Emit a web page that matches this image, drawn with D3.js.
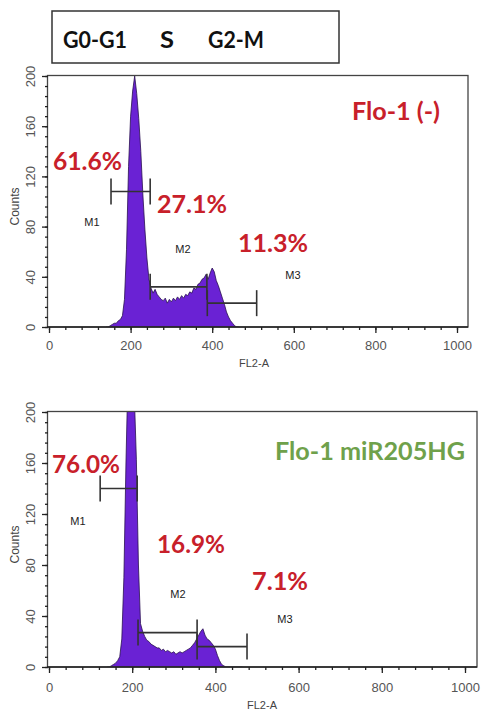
<!DOCTYPE html>
<html><head><meta charset="utf-8">
<script src="https://cdn.jsdelivr.net/npm/d3@7"></script>
<style>body{margin:0;background:#fff}svg{display:block}</style>
</head><body>
<script>
// ---- data ----
const phases = ["G0-G1", "S", "G2-M"];
const fl2a = [140,145,150,155,160,165,170,175,180,185,190,195,200,205,210,215,220,225,230,235,240,245,250,255,260,265,270,275,280,285,290,295,300,305,310,315,320,325,330,335,340,345,350,355,360,365,370,375,380,385,390,395,400,405,410,415,420,425,430,435,440,445,450,455,460,465];
const countsCtrl = [0,0,1,2,3,3,5,6,9,22,62,128,168,188,200,186,166,140,106,78,55,38,31,27,30,26,24,22,21,23,19,22,20,23,21,24,22,25,23,26,25,28,27,31,30,34,35,38,39,42,38,43,47,44,37,33,28,23,18,12,8,5,3,1,0,0];
const countsMir = [0,0,1,2,3,5,8,22,70,160,232,240,236,214,163,80,34,28,24,21,20,18,17,16,15,15,13,14,12,13,12,11,12,10,11,12,11,12,13,14,15,17,19,22,25,28,30,25,22,21,19,17,14,9,5,2,1,0,0,0,0,0,0,0,0,0];
const xTicks = [0,200,400,600,800,1000];
const yTicks = [0,40,80,120,160,200];
const panelNames = ["Flo-1 (-)", "Flo-1 miR205HG"];
const markerNames = ["M1","M2","M3"];
// gates: [start, end, height] per panel
const gatesCtrl = [[152,248,108],[248,387,32],[388,509,19]];
const gatesMir  = [[123,212,140],[214,356,27],[356,476,16]];
const pctCtrl = ["61.6%","27.1%","11.3%"];
const pctMir  = ["76.0%","16.9%","7.1%"];

const W = 484, H = 711;
const svg = d3.select("body").append("svg").attr("width", W).attr("height", H);

// legend box
svg.append("rect").attr("x",52).attr("y",11).attr("width",287).attr("height",52)
  .attr("fill","#fff").attr("stroke","#333").attr("stroke-width",1.5);
const phX = [63,160,208], phW = [64,14,56];
phases.forEach((p,i)=>{
  svg.append("text").attr("x",phX[i]).attr("y",48).text(p)
    .attr("font-family","Lato, 'Open Sans', sans-serif").attr("font-weight","bold")
    .attr("font-size",22).attr("fill","#111")
    .attr("textLength",phW[i]).attr("lengthAdjust","spacingAndGlyphs");
});

const panels = [
  {x0:49, x1:457, fr:468, top:76, bot:327, counts:countsCtrl, gates:gatesCtrl, pct:pctCtrl,
   name:panelNames[0], nameColor:"#c8202a", nameX:352, nameY:120, nameW:88,
   pctPos:[[53,170,69],[157,213,70],[238,252,70]],
   mPos:[[92,222],[183,249],[293,275]], flX:254, flY:363, tickLabY:21},
  {x0:49, x1:465, fr:477, top:412, bot:667, counts:countsMir, gates:gatesMir, pct:pctMir,
   name:panelNames[1], nameColor:"#6fa14b", nameX:275, nameY:460, nameW:190,
   pctPos:[[52,473,68],[157,553,68],[252,590,56]],
   mPos:[[78,521],[178,594],[285,619]], flX:262, flY:705, tickLabY:23}
];

panels.forEach((P,pi)=>{
  const x = d3.scaleLinear().domain([0,1000]).range([P.x0,P.x1]);
  const y = d3.scaleLinear().domain([0,200]).range([P.bot,P.top]);
  const g = svg.append("g");
  const clipId = "clip"+pi;
  svg.append("clipPath").attr("id",clipId).append("rect")
    .attr("x",47).attr("y",P.top-1).attr("width",P.fr-47).attr("height",P.bot-P.top+1);

  // histogram
  const pts = fl2a.map((v,i)=>[v,P.counts[i]]);
  const area = d3.area().x(d=>x(d[0])).y0(y(0)).y1(d=>y(d[1]));
  const line = d3.line().x(d=>x(d[0])).y(d=>y(d[1]));
  g.append("path").attr("d",area(pts)).attr("fill","#6a22d4").attr("clip-path",`url(#${clipId})`);
  g.append("path").attr("d",line(pts)).attr("fill","none").attr("stroke","#2a1050")
    .attr("stroke-width",0.8).attr("clip-path",`url(#${clipId})`);

  // frame
  g.append("rect").attr("x",47.5).attr("y",P.top-0.5).attr("width",P.fr-47.5).attr("height",P.bot-P.top+0.5)
    .attr("fill","none").attr("stroke","#444").attr("stroke-width",1.3);

  // axes
  const minorX = d3.range(0,1001,40);
  const minorY = d3.range(0,201,8);
  const ax = g.append("g").attr("transform",`translate(0,${P.bot})`);
  ax.call(d3.axisBottom(x).tickValues(minorX).tickSize(3).tickFormat("")).select(".domain").remove();
  const axM = g.append("g").attr("transform",`translate(0,${P.bot})`)
    .call(d3.axisBottom(x).tickValues(xTicks).tickSize(6).tickPadding(5).tickFormat(d3.format("d")));
  axM.select(".domain").attr("stroke","#222").attr("stroke-width",1.5).attr("d",`M47,0H${P.fr}`);
  axM.selectAll("text").attr("font-family","'Liberation Sans', Arial, sans-serif").attr("font-size",13)
    .attr("fill","#555").attr("y",P.tickLabY-7).attr("dy","0.71em");
  g.selectAll(".tick line").attr("stroke","#222").attr("stroke-width",1.3);

  const ay = g.append("g").attr("transform",`translate(48,0)`);
  ay.call(d3.axisLeft(y).tickValues(minorY).tickSize(3).tickFormat("")).select(".domain").remove();
  const ayM = g.append("g").attr("transform",`translate(48,0)`)
    .call(d3.axisLeft(y).tickValues(yTicks).tickSize(6).tickFormat(d3.format("d")));
  ayM.select(".domain").remove();
  ayM.selectAll("text").attr("font-family","'Liberation Sans', Arial, sans-serif").attr("font-size",13)
    .attr("fill","#555").attr("x",0).attr("dy",null).attr("text-anchor","middle")
    .attr("transform","translate(-13,0) rotate(-90)");
  g.selectAll(".tick line").attr("stroke","#222").attr("stroke-width",1.3);

  // axis titles
  g.append("text").attr("transform",`translate(19,${(P.top+P.bot)/2 + 5}) rotate(-90)`)
    .attr("text-anchor","middle").text("Counts")
    .attr("font-family","'Liberation Sans', Arial, sans-serif").attr("font-size",12).attr("fill","#444");
  g.append("text").attr("x",P.flX).attr("y",P.flY+4).attr("text-anchor","middle").text("FL2-A")
    .attr("font-family","'Liberation Sans', Arial, sans-serif").attr("font-size",11).attr("fill","#444");

  // gates
  P.gates.forEach((gt,i)=>{
    const [a,b,h] = gt;
    const gy = y(h);
    const gg = g.append("g").attr("stroke","#333").attr("stroke-width",1.6);
    gg.append("line").attr("x1",x(a)).attr("x2",x(b)).attr("y1",gy).attr("y2",gy);
    gg.append("line").attr("x1",x(a)).attr("x2",x(a)).attr("y1",gy-13).attr("y2",gy+13);
    gg.append("line").attr("x1",x(b)).attr("x2",x(b)).attr("y1",gy-13).attr("y2",gy+13);
    g.append("text").attr("x",P.mPos[i][0]).attr("y",P.mPos[i][1]+4).attr("text-anchor","middle")
      .text(markerNames[i]).attr("font-family","'Liberation Sans', Arial, sans-serif")
      .attr("font-size",11).attr("fill","#222");
    g.append("text").attr("x",P.pctPos[i][0]).attr("y",P.pctPos[i][1]).text(P.pct[i])
      .attr("font-family","Lato, 'Open Sans', sans-serif").attr("font-weight","bold")
      .attr("font-size",24).attr("fill","#c8202a")
      .attr("textLength",P.pctPos[i][2]).attr("lengthAdjust","spacingAndGlyphs");
  });

  g.append("text").attr("x",P.nameX).attr("y",P.nameY).text(P.name)
    .attr("font-family","Lato, 'Open Sans', sans-serif").attr("font-weight","bold")
    .attr("font-size",24).attr("fill",P.nameColor)
    .attr("textLength",P.nameW).attr("lengthAdjust","spacingAndGlyphs");
});
</script>
</body></html>
